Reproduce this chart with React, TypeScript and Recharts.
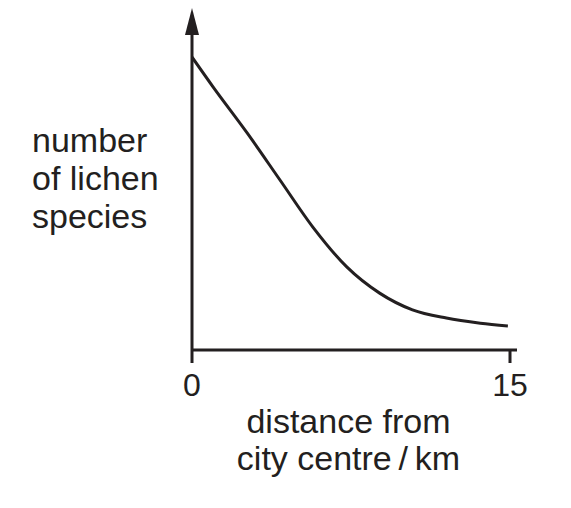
import React from "react";
import { LineChart, Line, XAxis, YAxis, ReferenceDot, Label } from "recharts";

const distanceKm = [0, 1, 2.6, 4.15, 5.7, 7.3, 8.85, 10.4, 12.0, 13.6, 14.9];
const lichenSpecies = [92.7, 83.2, 68.7, 53.8, 38.9, 26.3, 18.0, 12.7, 10.1, 8.5, 7.6];
const xTicks = [0, 15];
const yLabelLines = ["number", "of lichen", "species"];
const xLabelLines = ["distance from", "city centre\u2009/\u2009km"];

const data = distanceKm.map((d, i) => ({ d, n: lichenSpecies[i] }));

const INK = "#231f20";
const FONT = "'Liberation Sans', Arial, Helvetica, sans-serif";

const Arrow = (props: any) => {
  const { cx, cy } = props;
  return (
    <polygon
      points={`${cx},${cy - 26} ${cx - 7},${cy + 1} ${cx + 7},${cy + 1}`}
      fill={INK}
    />
  );
};

const YTitle = (props: any) => {
  const vb = props.viewBox || {};
  const top = vb.y ?? 34;
  return (
    <text x={32} y={top + 118} fill={INK} fontSize={34} fontFamily={FONT}>
      {yLabelLines.map((l, i) => (
        <tspan key={i} x={32} dy={i === 0 ? 0 : 38}>
          {l}
        </tspan>
      ))}
    </text>
  );
};

const XTitle = (props: any) => {
  const vb = props.viewBox || {};
  const cx = (vb.x ?? 192) + (vb.width ?? 325) / 2 - 6;
  const y0 = (vb.y ?? 350) + 83;
  return (
    <text x={cx} y={y0} fill={INK} fontSize={34} fontFamily={FONT} textAnchor="middle">
      {xLabelLines.map((l, i) => (
        <tspan key={i} x={cx} dy={i === 0 ? 0 : 37}>
          {l}
        </tspan>
      ))}
    </text>
  );
};

export default function App() {
  return (
    <div style={{ margin: -8 }}>
      <LineChart
        width={571}
        height={508}
        data={data}
        margin={{ top: 34, right: 54, left: 132, bottom: 128 }}
      >
        <XAxis
          dataKey="d"
          type="number"
          domain={[0, 15.33]}
          ticks={xTicks}
          allowDataOverflow
          axisLine={{ stroke: INK, strokeWidth: 3 }}
          tickLine={{ stroke: INK, strokeWidth: 3 }}
          tickSize={13}
          tickMargin={10}
          tick={{ fill: INK, fontSize: 32, fontFamily: FONT }}
          height={30}
        >
          <Label content={XTitle} />
        </XAxis>
        <YAxis
          type="number"
          domain={[0, 100]}
          tick={false}
          tickLine={false}
          axisLine={{ stroke: INK, strokeWidth: 3 }}
          width={60}
        >
          <Label content={YTitle} />
        </YAxis>
        <Line
          type="monotone"
          dataKey="n"
          stroke={INK}
          strokeWidth={3}
          dot={false}
          isAnimationActive={false}
        />
        <ReferenceDot x={0} y={100} shape={Arrow} ifOverflow="visible" />
      </LineChart>
    </div>
  );
}
